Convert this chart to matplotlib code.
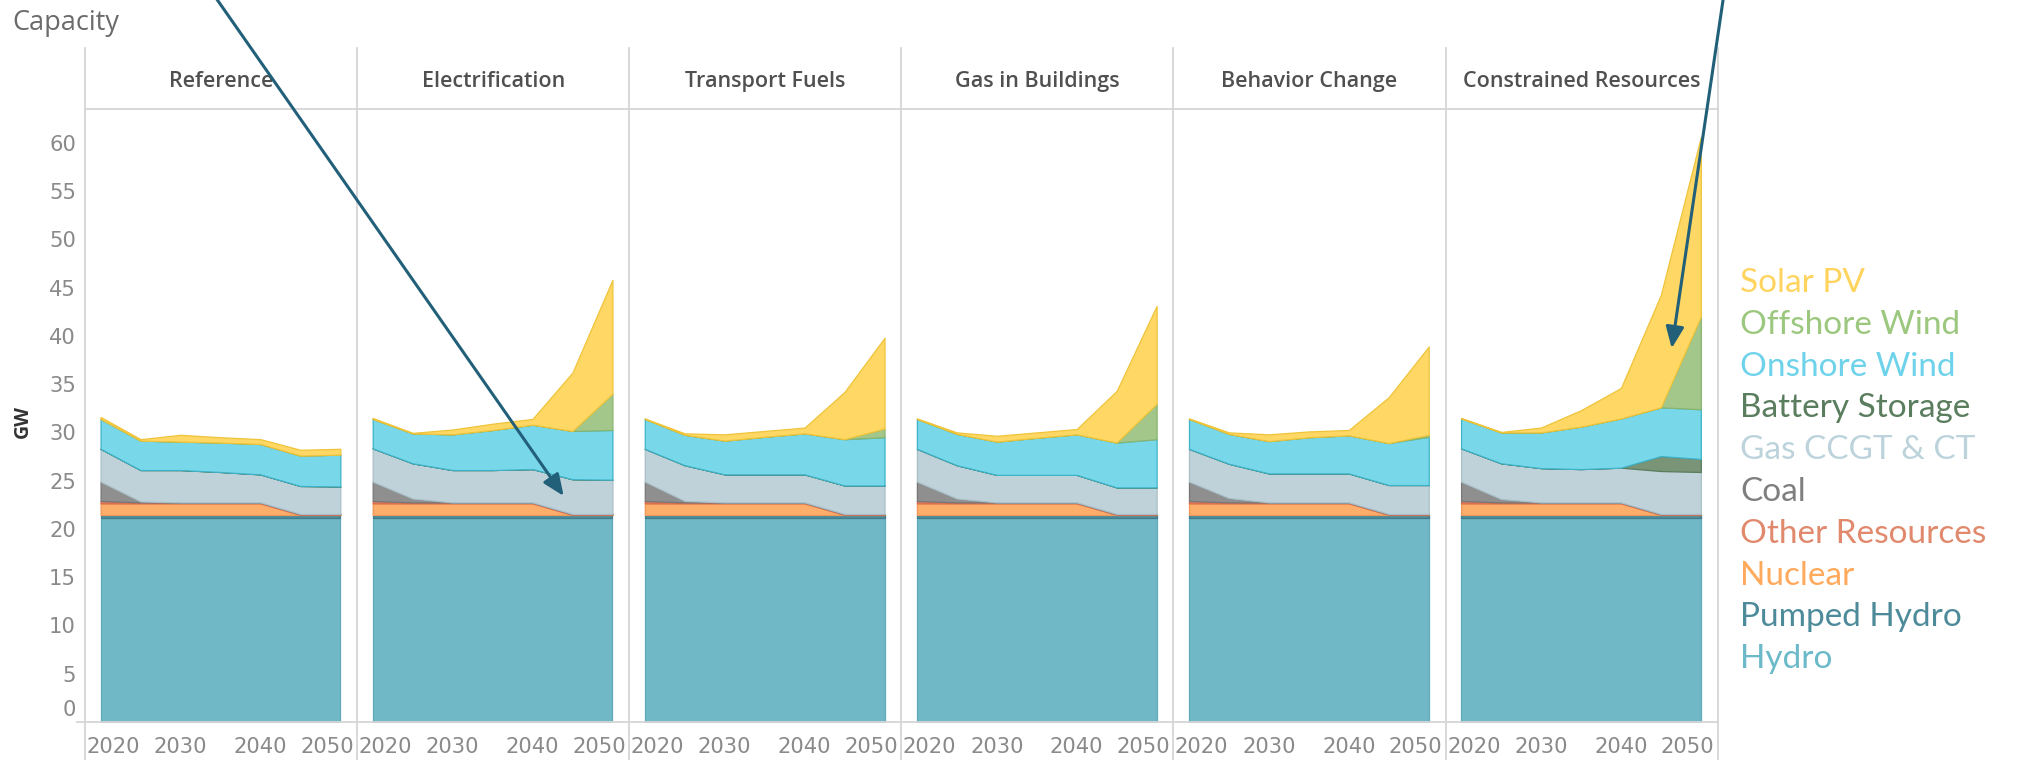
import numpy as np
import matplotlib
matplotlib.use("Agg")
import matplotlib.pyplot as plt
import matplotlib.transforms as mtransforms
from matplotlib.patches import FancyArrowPatch
from matplotlib.lines import Line2D

# ---------------- data ----------------
years = [2020, 2025, 2030, 2035, 2040, 2045, 2050]
scenarios = ["Reference", "Electrification", "Transport Fuels",
             "Gas in Buildings", "Behavior Change", "Constrained Resources"]
x_ticks = [2020, 2030, 2040, 2050]
y_ticks = [0, 5, 10, 15, 20, 25, 30, 35, 40, 45, 50, 55, 60]

# stacking order bottom -> top ; rows = scenarios (same order as above)
hydro = [
    [21.1, 21.1, 21.1, 21.1, 21.1, 21.1, 21.1],
    [21.1, 21.1, 21.1, 21.1, 21.1, 21.1, 21.1],
    [21.1, 21.1, 21.1, 21.1, 21.1, 21.1, 21.1],
    [21.1, 21.1, 21.1, 21.1, 21.1, 21.1, 21.1],
    [21.1, 21.1, 21.1, 21.1, 21.1, 21.1, 21.1],
    [21.1, 21.1, 21.1, 21.1, 21.1, 21.1, 21.1],
]
pumped_hydro = [
    [0.35, 0.35, 0.35, 0.35, 0.35, 0.35, 0.35],
    [0.35, 0.35, 0.35, 0.35, 0.35, 0.35, 0.35],
    [0.35, 0.35, 0.35, 0.35, 0.35, 0.35, 0.35],
    [0.35, 0.35, 0.35, 0.35, 0.35, 0.35, 0.35],
    [0.35, 0.35, 0.35, 0.35, 0.35, 0.35, 0.35],
    [0.35, 0.35, 0.35, 0.35, 0.35, 0.35, 0.35],
]
nuclear = [
    [1.2, 1.2, 1.2, 1.2, 1.2, 0.0, 0.0],
    [1.2, 1.2, 1.2, 1.2, 1.2, 0.0, 0.0],
    [1.2, 1.2, 1.2, 1.2, 1.2, 0.0, 0.0],
    [1.2, 1.2, 1.2, 1.2, 1.2, 0.0, 0.0],
    [1.2, 1.2, 1.2, 1.2, 1.2, 0.0, 0.0],
    [1.2, 1.2, 1.2, 1.2, 1.2, 0.0, 0.0],
]
other_resources = [
    [0.25, 0.1, 0.1, 0.1, 0.1, 0.1, 0.1],
    [0.25, 0.1, 0.1, 0.1, 0.1, 0.1, 0.1],
    [0.25, 0.1, 0.1, 0.1, 0.1, 0.1, 0.1],
    [0.25, 0.1, 0.1, 0.1, 0.1, 0.1, 0.1],
    [0.25, 0.1, 0.1, 0.1, 0.1, 0.1, 0.1],
    [0.25, 0.1, 0.1, 0.1, 0.1, 0.1, 0.1],
]
coal = [
    [2.0, 0.1, 0.0, 0.0, 0.0, 0.0, 0.0],
    [2.0, 0.4, 0.0, 0.0, 0.0, 0.0, 0.0],
    [2.0, 0.15, 0.0, 0.0, 0.0, 0.0, 0.0],
    [2.0, 0.4, 0.0, 0.0, 0.0, 0.0, 0.0],
    [2.0, 0.45, 0.0, 0.0, 0.0, 0.0, 0.0],
    [2.0, 0.35, 0.0, 0.0, 0.0, 0.0, 0.0],
]
gas_ccgt_ct = [
    [3.4, 3.25, 3.35, 3.15, 2.9, 2.9, 2.85],
    [3.45, 3.65, 3.35, 3.35, 3.45, 3.6, 3.55],
    [3.4, 3.7, 2.9, 2.9, 2.9, 2.95, 2.95],
    [3.4, 3.45, 2.85, 2.85, 2.85, 2.75, 2.75],
    [3.4, 3.55, 3.0, 3.0, 3.0, 3.0, 3.0],
    [3.45, 3.7, 3.55, 3.45, 3.6, 4.45, 4.35],
]
battery_storage = [
    [0.0, 0.0, 0.0, 0.0, 0.0, 0.0, 0.0],
    [0.0, 0.0, 0.0, 0.0, 0.0, 0.0, 0.0],
    [0.0, 0.0, 0.0, 0.0, 0.0, 0.0, 0.0],
    [0.0, 0.0, 0.0, 0.0, 0.0, 0.0, 0.0],
    [0.0, 0.0, 0.0, 0.0, 0.0, 0.0, 0.0],
    [0.0, 0.0, 0.0, 0.0, 0.0, 1.55, 1.35],
]
onshore_wind = [
    [3.1, 3.05, 2.95, 3.05, 3.15, 3.15, 3.3],
    [3.05, 3.1, 3.7, 4.15, 4.6, 5.0, 5.15],
    [3.1, 3.15, 3.5, 3.9, 4.25, 4.8, 5.0],
    [3.1, 3.25, 3.45, 3.85, 4.2, 4.65, 5.0],
    [3.1, 3.1, 3.35, 3.75, 3.95, 4.35, 5.0],
    [3.1, 3.2, 3.7, 4.4, 5.1, 5.05, 5.15],
]
offshore_wind = [
    [0.0, 0.0, 0.0, 0.0, 0.0, 0.0, 0.0],
    [0.0, 0.0, 0.0, 0.0, 0.0, 0.0, 3.75],
    [0.0, 0.0, 0.0, 0.0, 0.0, 0.0, 0.9],
    [0.0, 0.0, 0.0, 0.0, 0.0, 0.0, 3.65],
    [0.0, 0.0, 0.0, 0.0, 0.0, 0.0, 0.2],
    [0.0, 0.0, 0.0, 0.0, 0.0, 0.0, 9.6],
]
solar_pv = [
    [0.2, 0.15, 0.7, 0.55, 0.5, 0.6, 0.6],
    [0.1, 0.05, 0.5, 0.65, 0.6, 6.05, 11.8],
    [0.05, 0.15, 0.65, 0.6, 0.6, 4.9, 9.4],
    [0.05, 0.15, 0.6, 0.55, 0.55, 5.35, 10.15],
    [0.05, 0.15, 0.7, 0.6, 0.55, 4.75, 9.15],
    [0.05, 0.05, 0.5, 1.7, 3.15, 11.65, 18.6],
]

resources = ["Hydro", "Pumped Hydro", "Nuclear", "Other Resources", "Coal",
             "Gas CCGT & CT", "Battery Storage", "Onshore Wind",
             "Offshore Wind", "Solar PV"]
series = [hydro, pumped_hydro, nuclear, other_resources, coal, gas_ccgt_ct,
          battery_storage, onshore_wind, offshore_wind, solar_pv]

# ---------------- styles ----------------
fill_colors = {
    "Hydro": "#71B8C6", "Pumped Hydro": "#4F8E9C", "Nuclear": "#FCAE6A",
    "Other Resources": "#E0805F", "Coal": "#8F8F8F", "Gas CCGT & CT": "#BFD2D9",
    "Battery Storage": "#7A9478", "Onshore Wind": "#78D8EA",
    "Offshore Wind": "#A3C78A", "Solar PV": "#FED765",
}
edge_colors = {
    "Hydro": "#62AABA", "Pumped Hydro": "#3F7D8C", "Nuclear": "#F0985A",
    "Other Resources": "#D96A4A", "Coal": "#777777", "Gas CCGT & CT": "#A9BFC8",
    "Battery Storage": "#5A7D5E", "Onshore Wind": "#3DB3CA",
    "Offshore Wind": "#88B56E", "Solar PV": "#EFC43A",
}
legend_colors = {
    "Solar PV": "#FFD45E", "Offshore Wind": "#9CC77E", "Onshore Wind": "#6ED3EA",
    "Battery Storage": "#5A7D5E", "Gas CCGT & CT": "#BCD3DC", "Coal": "#7F7F7F",
    "Other Resources": "#E0896C", "Nuclear": "#FFA95C", "Pumped Hydro": "#4D8B9A",
    "Hydro": "#6BB9C9",
}

W, H = 2019, 760
fig = plt.figure(figsize=(W / 100, H / 100), dpi=100)
fig.patch.set_facecolor("white")


def fx(px):
    return px / W


def fy(py):
    return 1 - py / H


left0, pw = 85.0, 272.1
top_px, bot_px = 109.0, 722.0
grid_c = "#D6D6D6"
tick_c = "#8A8A8A"

for i, sc in enumerate(scenarios):
    ax = fig.add_axes([fx(left0 + i * pw), fy(bot_px), pw / W, (bot_px - top_px) / H])
    ax.set_xlim(2018.05, 2052.1)
    ax.set_ylim(0, 63.5)
    lower = np.zeros(len(years))
    for r, (name, data) in enumerate(zip(resources, series)):
        upper = lower + np.array(data[i], dtype=float)
        ax.fill_between(years, lower, upper, facecolor=fill_colors[name],
                        edgecolor=edge_colors[name], linewidth=0.9, zorder=2 + r)
        lower = upper
    for s in ax.spines.values():
        s.set_visible(False)
    ax.set_facecolor("none")
    ax.set_xticks(x_ticks)
    ax.set_xticklabels([str(t) for t in x_ticks])
    ax.tick_params(axis="x", length=0, pad=10.5, labelsize=15.2, labelcolor=tick_c)
    xl = ax.get_xticklabels()
    xl[0].set_ha("left")
    xl[0].set_transform(xl[0].get_transform() +
                        mtransforms.ScaledTranslation(-0.14, 0, fig.dpi_scale_trans))
    xl[-1].set_ha("right")
    xl[-1].set_transform(xl[-1].get_transform() +
                         mtransforms.ScaledTranslation(0.135, 0, fig.dpi_scale_trans))
    if i == 0:
        ax.set_yticks(y_ticks)
        ax.set_yticklabels([str(t) for t in y_ticks])
        ax.tick_params(axis="y", length=0, pad=6.5, labelsize=15.2, labelcolor=tick_c)
        yl = ax.get_yticklabels()
        yl[0].set_transform(yl[0].get_transform() +
                            mtransforms.ScaledTranslation(0, 0.14, fig.dpi_scale_trans))
    else:
        ax.set_yticks([])
    # header
    fig.text(fx(left0 + i * pw + pw / 2), fy(87), sc, ha="center", va="baseline",
             fontsize=15.5, family="Open Sans", weight=600, color="#505050")

# frame lines
for i in range(7):
    x = fx(left0 + i * pw)
    fig.add_artist(Line2D([x, x], [fy(48), fy(H)], color=grid_c, lw=1.3))
fig.add_artist(Line2D([fx(left0), fx(left0 + 6 * pw)], [fy(top_px), fy(top_px)],
                      color=grid_c, lw=1.3))
fig.add_artist(Line2D([fx(77), fx(left0 + 6 * pw)], [fy(bot_px), fy(bot_px)],
                      color=grid_c, lw=1.3))

# titles
fig.text(fx(12), fy(30), "Capacity", ha="left", va="baseline", fontsize=19.5,
         family="Open Sans", color="#6B6B6B")
fig.text(fx(23), fy(421), "GW", ha="center", va="center", rotation=90,
         fontsize=14, family="Open Sans", weight="bold", color="#333333")

# legend
legend_order = ["Solar PV", "Offshore Wind", "Onshore Wind", "Battery Storage",
                "Gas CCGT & CT", "Coal", "Other Resources", "Nuclear",
                "Pumped Hydro", "Hydro"]
for k, name in enumerate(legend_order):
    fig.text(fx(1740), fy(292 + 41.8 * k), name, ha="left", va="baseline",
             fontsize=24, family="Lato", color=legend_colors[name])

# annotation arrows
arrow_c = "#22607A"
for (x0, y0), (x1, y1) in [((215.3, -3), (563.7, 496)), ((1723.5, -3), (1671.7, 348.3))]:
    arr = FancyArrowPatch((fx(x0), fy(y0)), (fx(x1), fy(y1)), transform=fig.transFigure,
                          arrowstyle="-|>,head_length=1.3,head_width=0.55",
                          mutation_scale=10, lw=2.2, color=arrow_c,
                          shrinkA=0, shrinkB=0, zorder=50)
    fig.add_artist(arr)

fig.savefig("out.png", dpi=100, facecolor="white")
